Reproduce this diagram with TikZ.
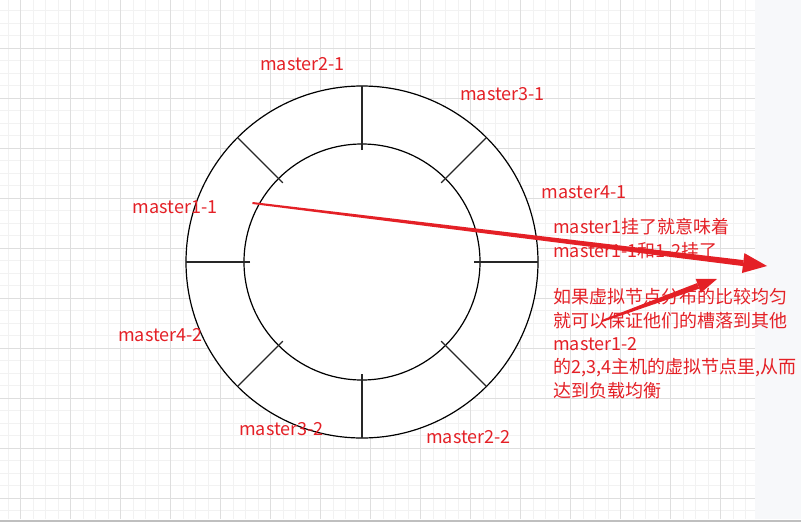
\documentclass[tikz,border=0pt]{standalone}
\usepackage{fontspec}
\setmainfont{Noto Sans CJK SC}
\usetikzlibrary{calc}
\definecolor{hotred}{RGB}{228,32,38}
\definecolor{panel}{RGB}{247,248,250}
\tikzstyle{lbl} = [text=hotred, inner sep=0pt, font=\fontsize{18}{23.3}\selectfont]
\tikzstyle{note} = [lbl, align=left, anchor=base west]
\tikzstyle{ring} = [draw=black, line width=1.2pt]
\tikzstyle{tick} = [draw=black!85, line width=1.4pt]
\newcommand{\redarrow}[4]{%
  \coordinate (#1-hb) at ($(#2)!#3pt!(#1)$);
  \fill[hotred] ($(#1)!1pt!90:(#2)$) -- ($(#1)!1pt!-90:(#2)$) -- ($(#1-hb)!3pt!90:(#1)$) -- ($(#1-hb)!3pt!-90:(#1)$) -- cycle;
  \fill[hotred] ($(#1-hb)!#4pt!90:(#1)$) -- (#2) -- ($(#1-hb)!#4pt!-90:(#1)$) -- cycle;
}
\begin{document}
\begin{tikzpicture}[x=1pt, y=-1pt]
	\useasboundingbox (0,0) rectangle (801,522);
	\foreach \x in {8.2,20.7,...,755} \draw[black!5, line width=0.8pt] (\x,0) -- (\x,519);
	\foreach \y in {10.5,23,...,519} \draw[black!5, line width=0.8pt] (0,\y) -- (755,\y);
	\foreach \x in {20.7,70.7,...,755} \draw[black!13, line width=0.9pt] (\x,0) -- (\x,519);
	\foreach \y in {48,98,...,519} \draw[black!13, line width=0.9pt] (0,\y) -- (755,\y);
	\fill[panel] (755,0) rectangle (801,519);
	\fill[black!25] (0,519.5) rectangle (801,522);

	\coordinate (c) at (362,262);
	\draw[ring, fill=white] (c) circle (176);
	\draw[ring] (c) circle (118);
	\foreach \a in {0,45,...,315}
		\draw[tick] ($(c)+(\a:112)$) -- ($(c)+(\a:176)$);

	\node[lbl] (m21) at (302.5,64) {master2-1};
	\node[lbl] (m31) at (502.5,94) {master3-1};
	\node[lbl] (m41) at (584,192) {master4-1};
	\node[lbl] (m11) at (175,207.5) {master1-1};
	\node[lbl] (m42) at (160.5,335.5) {master4-2};
	\node[lbl] (m32) at (281.5,429) {master3-2};
	\node[lbl] (m22) at (468.5,437.5) {master2-2};

	\node[note] (info) at (553,397) {master1挂了就意味着\\
		master1-1和1-2挂了\\[23.3pt]
		如果虚拟节点分布的比较均匀\\
		就可以保证他们的槽落到其他\\
		master1-2\\
		的2,3,4主机的虚拟节点里,从而\\
		达到负载均衡};

	\coordinate (a1) at ($(m11.east)+(35,-4.5)$);
	\coordinate (t1) at (767,266);
	\coordinate (a2) at (602,321);
	\coordinate (t2) at (717,279);
	\redarrow{a1}{t1}{24}{10}
	\redarrow{a2}{t2}{20}{7.5}
\end{tikzpicture}
\end{document}
